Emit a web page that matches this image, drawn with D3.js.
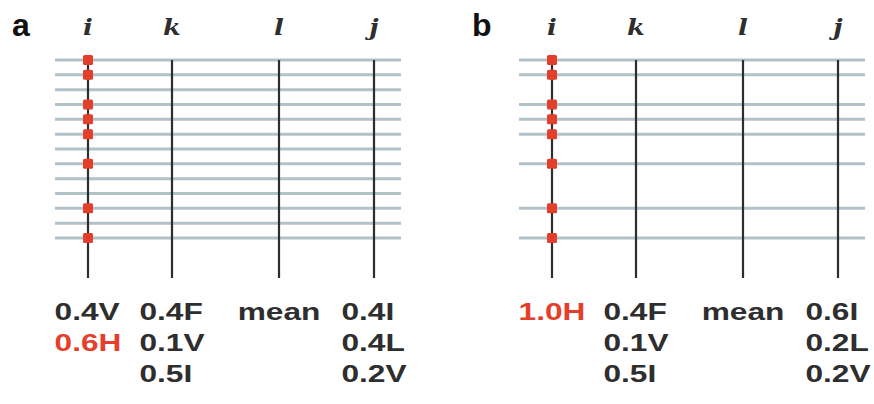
<!DOCTYPE html>
<html>
<head>
<meta charset="utf-8">
<script src="https://cdn.jsdelivr.net/npm/d3@7"></script>
<style>
  body { margin: 0; background: #fff; }
  svg { display: block; }
</style>
</head>
<body>
<svg id="chart" width="874" height="404"></svg>
<script>
// columns of the diagram
const columns = ["i", "k", "l", "j"];

// rows (0..12) drawn as horizontal lines in each panel
const linesA = [0, 1, 2, 3, 4, 5, 6, 7, 8, 9, 10, 11, 12];
const linesB = [0, 1, 3, 4, 5, 7, 10, 12];

// rows that carry a red marker on column i
const markedRows = [0, 1, 3, 4, 5, 7, 10, 12];

// labels under each column
const labelsA = [["0.4V", "0.6H"], ["0.4F", "0.1V", "0.5I"], ["mean"], ["0.4I", "0.4L", "0.2V"]];
const labelsB = [["1.0H"], ["0.4F", "0.1V", "0.5I"], ["mean"], ["0.6I", "0.2L", "0.2V"]];
const highlightA = ["0.6H"];
const highlightB = ["1.0H"];

const panels = [
  { name: "a", lines: linesA, labels: labelsA, highlight: highlightA, originX: 88, nameX: 12 },
  { name: "b", lines: linesB, labels: labelsB, highlight: highlightB, originX: 552, nameX: 472 }
];

const red = "#e43f2d";
const ink = "#2e2e2e";
const stretch = 1.32;

const svg = d3.select("#chart");

const y = d3.scaleLinear().domain([0, 12]).range([60, 238]);
const colX = d3.scaleOrdinal().domain(columns).range([0, 84, 191, 286]);

panels.forEach(p => {
  const g = svg.append("g").attr("transform", `translate(${p.originX},0)`);

  // panel letter
  svg.append("text")
    .attr("x", p.nameX)
    .attr("y", 36)
    .attr("font-family", "Liberation Sans, Arial, sans-serif")
    .attr("font-weight", "bold")
    .attr("font-size", 32)
    .attr("fill", "#111")
    .text(p.name);

  // column headers
  g.selectAll("text.head")
    .data(columns)
    .enter()
    .append("text")
    .attr("class", "head")
    .attr("transform", d => `translate(${colX(d)},35) scale(1.12,1)`)
    .attr("text-anchor", "middle")
    .attr("font-family", "DejaVu Serif, serif")
    .attr("font-style", "italic")
    .attr("font-weight", "bold")
    .attr("font-size", 23)
    .attr("fill", ink)
    .text(d => d);

  // horizontal lines
  g.selectAll("line.row")
    .data(p.lines)
    .enter()
    .append("line")
    .attr("class", "row")
    .attr("x1", -33)
    .attr("x2", 313)
    .attr("y1", d => y(d))
    .attr("y2", d => y(d))
    .attr("stroke", "#b3c1c8")
    .attr("stroke-width", 3);

  // vertical column lines
  g.selectAll("line.col")
    .data(columns)
    .enter()
    .append("line")
    .attr("class", "col")
    .attr("x1", d => colX(d))
    .attr("x2", d => colX(d))
    .attr("y1", y(0))
    .attr("y2", 278)
    .attr("stroke", ink)
    .attr("stroke-width", 2.2);

  // red markers on column i
  g.selectAll("rect.mark")
    .data(markedRows)
    .enter()
    .append("rect")
    .attr("class", "mark")
    .attr("x", colX("i") - 5)
    .attr("y", d => y(d) - 5)
    .attr("width", 10)
    .attr("height", 10)
    .attr("rx", 1.5)
    .attr("fill", red);

  // label stacks, left aligned and centred on their column
  p.labels.forEach((stack, ci) => {
    const col = columns[ci];
    const block = g.append("g");
    const texts = block.selectAll("text")
      .data(stack)
      .enter()
      .append("text")
      .attr("transform", (d, i) => `translate(0,${320 + i * 31}) scale(${stretch},1)`)
      .attr("font-family", "Liberation Sans, Arial, sans-serif")
      .attr("font-weight", "bold")
      .attr("font-size", 24)
      .attr("fill", d => p.highlight.includes(d) ? red : ink)
      .text(d => d);
    const w = d3.max(texts.nodes(), n => n.getComputedTextLength()) * stretch;
    block.attr("transform", `translate(${colX(col) - w / 2},0)`);
  });
});
</script>
</body>
</html>
